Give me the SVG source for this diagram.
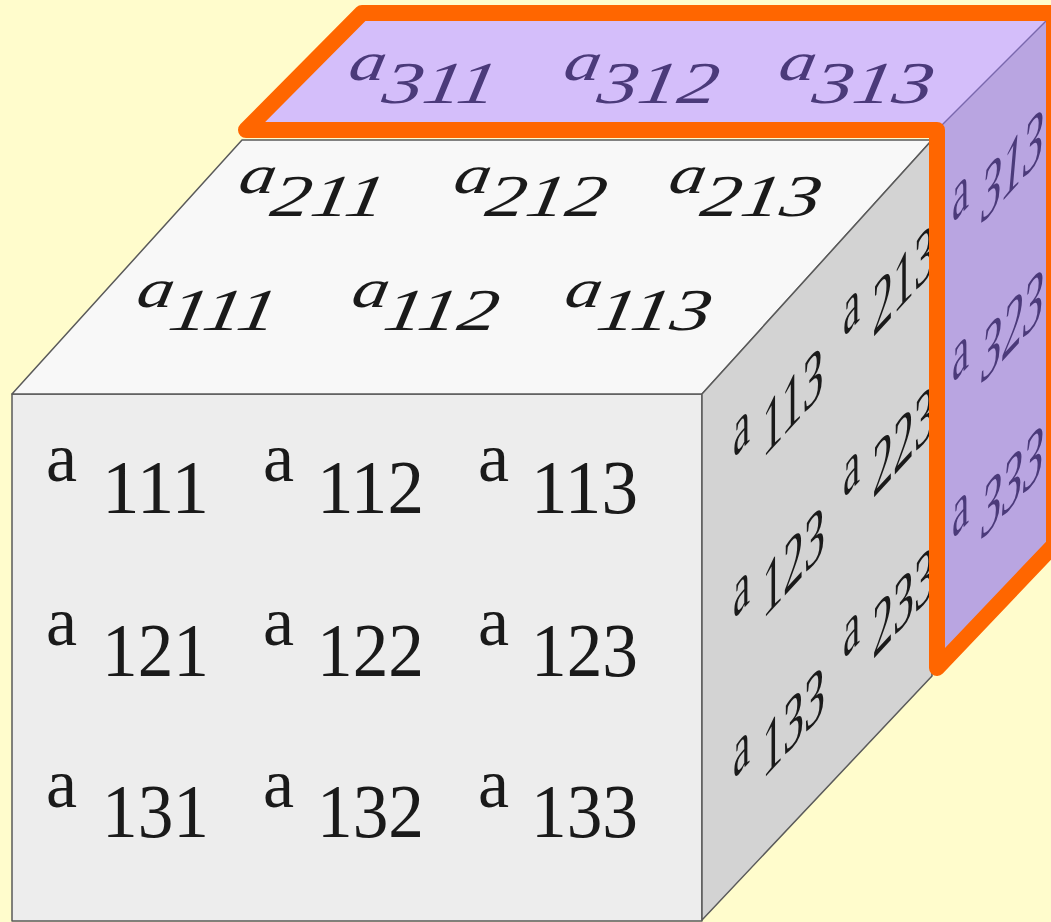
<svg xmlns="http://www.w3.org/2000/svg" width="1051" height="922" viewBox="0 0 1051 922">
<style>
.edge{stroke:#5a5a5a;stroke-width:1.5;stroke-linejoin:round}
text{font-family:'Liberation Serif',serif;fill:#1a1a1a}
.a{font-size:70px}
.n{font-size:76px}
.ti{font-style:italic}
.p{fill:#4b3a7a}
.orange{fill:none;stroke:#ff6600;stroke-width:16;stroke-linejoin:round}
</style>
<defs>
<clipPath id="sideClip"><polygon points="702,394 932,140 932,676 702,920"/></clipPath>
</defs>
<rect width="1051" height="922" fill="#fffccc"/>

<g id="front-face">
<polygon class="edge" points="12,394 702,394 702,921 12,921" fill="#ededed"/>
<text class="a" x="46" y="481">a</text><text class="n" x="102" y="513" textLength="107" lengthAdjust="spacingAndGlyphs">111</text>
<text class="a" x="263" y="481">a</text><text class="n" x="317" y="513" textLength="107" lengthAdjust="spacingAndGlyphs">112</text>
<text class="a" x="478" y="481">a</text><text class="n" x="531" y="513" textLength="107" lengthAdjust="spacingAndGlyphs">113</text>
<text class="a" x="46" y="645">a</text><text class="n" x="102" y="676" textLength="107" lengthAdjust="spacingAndGlyphs">121</text>
<text class="a" x="263" y="645">a</text><text class="n" x="317" y="676" textLength="107" lengthAdjust="spacingAndGlyphs">122</text>
<text class="a" x="478" y="645">a</text><text class="n" x="531" y="676" textLength="107" lengthAdjust="spacingAndGlyphs">123</text>
<text class="a" x="46" y="807">a</text><text class="n" x="102" y="837" textLength="107" lengthAdjust="spacingAndGlyphs">131</text>
<text class="a" x="263" y="807">a</text><text class="n" x="317" y="837" textLength="107" lengthAdjust="spacingAndGlyphs">132</text>
<text class="a" x="478" y="807">a</text><text class="n" x="531" y="837" textLength="107" lengthAdjust="spacingAndGlyphs">133</text>
</g>

<g id="top-face">
<polygon class="edge" points="12,394 242,140 932,140 702,394" fill="#f8f8f8"/>
<g transform="translate(135,307) skewX(-10) scale(1.05,0.78)"><text class="ti a">a</text><text class="ti n" x="34" y="30">111</text></g>
<g transform="translate(350,307) skewX(-10) scale(1.05,0.78)"><text class="ti a">a</text><text class="ti n" x="34" y="30">112</text></g>
<g transform="translate(563,307) skewX(-10) scale(1.05,0.78)"><text class="ti a">a</text><text class="ti n" x="34" y="30">113</text></g>
<g transform="translate(237,193) skewX(-10) scale(1.05,0.78)"><text class="ti a">a</text><text class="ti n" x="34" y="30">211</text></g>
<g transform="translate(452,193) skewX(-10) scale(1.05,0.78)"><text class="ti a">a</text><text class="ti n" x="34" y="30">212</text></g>
<g transform="translate(667,193) skewX(-10) scale(1.05,0.78)"><text class="ti a">a</text><text class="ti n" x="34" y="30">213</text></g>
</g>

<g id="side-face">
<polygon class="edge" points="702,394 932,140 932,676 702,920" fill="#d3d3d3"/>
<g clip-path="url(#sideClip)">
<g transform="matrix(0.55,-0.6,0,1,733,459)"><text class="a">a</text><text class="n" x="53" y="32">113</text></g>
<g transform="matrix(0.55,-0.6,0,1,733,620)"><text class="a">a</text><text class="n" x="53" y="32">123</text></g>
<g transform="matrix(0.55,-0.6,0,1,733,780)"><text class="a">a</text><text class="n" x="53" y="32">133</text></g>
<g transform="matrix(0.55,-0.6,0,1,843,338)"><text class="a">a</text><text class="n" x="53" y="32">213</text></g>
<g transform="matrix(0.55,-0.6,0,1,843,499)"><text class="a">a</text><text class="n" x="53" y="32">223</text></g>
<g transform="matrix(0.55,-0.6,0,1,843,660)"><text class="a">a</text><text class="n" x="53" y="32">233</text></g>
</g>
</g>

<g id="layer-3">
<polygon points="246,130 362,13 1054,13 937,130" fill="#d4befa"/>
<polygon points="937,130 1054,13 1054,545 937,668" fill="#b9a5e1"/>
<line x1="937" y1="130" x2="1050" y2="17" stroke="#7a68ae" stroke-width="1.5"/>
<g transform="translate(347,80) skewX(-10) scale(1.05,0.78)"><text class="ti a p">a</text><text class="ti n p" x="36" y="30">311</text></g>
<g transform="translate(562,80) skewX(-10) scale(1.05,0.78)"><text class="ti a p">a</text><text class="ti n p" x="36" y="30">312</text></g>
<g transform="translate(777,80) skewX(-10) scale(1.05,0.78)"><text class="ti a p">a</text><text class="ti n p" x="36" y="30">313</text></g>
<g transform="matrix(0.55,-0.6,0,1,952,224)"><text class="a p">a</text><text class="ti n p" x="53" y="32">313</text></g>
<g transform="matrix(0.55,-0.6,0,1,952,384)"><text class="a p">a</text><text class="ti n p" x="53" y="32">323</text></g>
<g transform="matrix(0.55,-0.6,0,1,952,540)"><text class="a p">a</text><text class="ti n p" x="53" y="32">333</text></g>
<path class="orange" d="M246,130 L362,13 L1054,13 L1054,545 L937,668 L937,130 Z"/>
</g>
</svg>
